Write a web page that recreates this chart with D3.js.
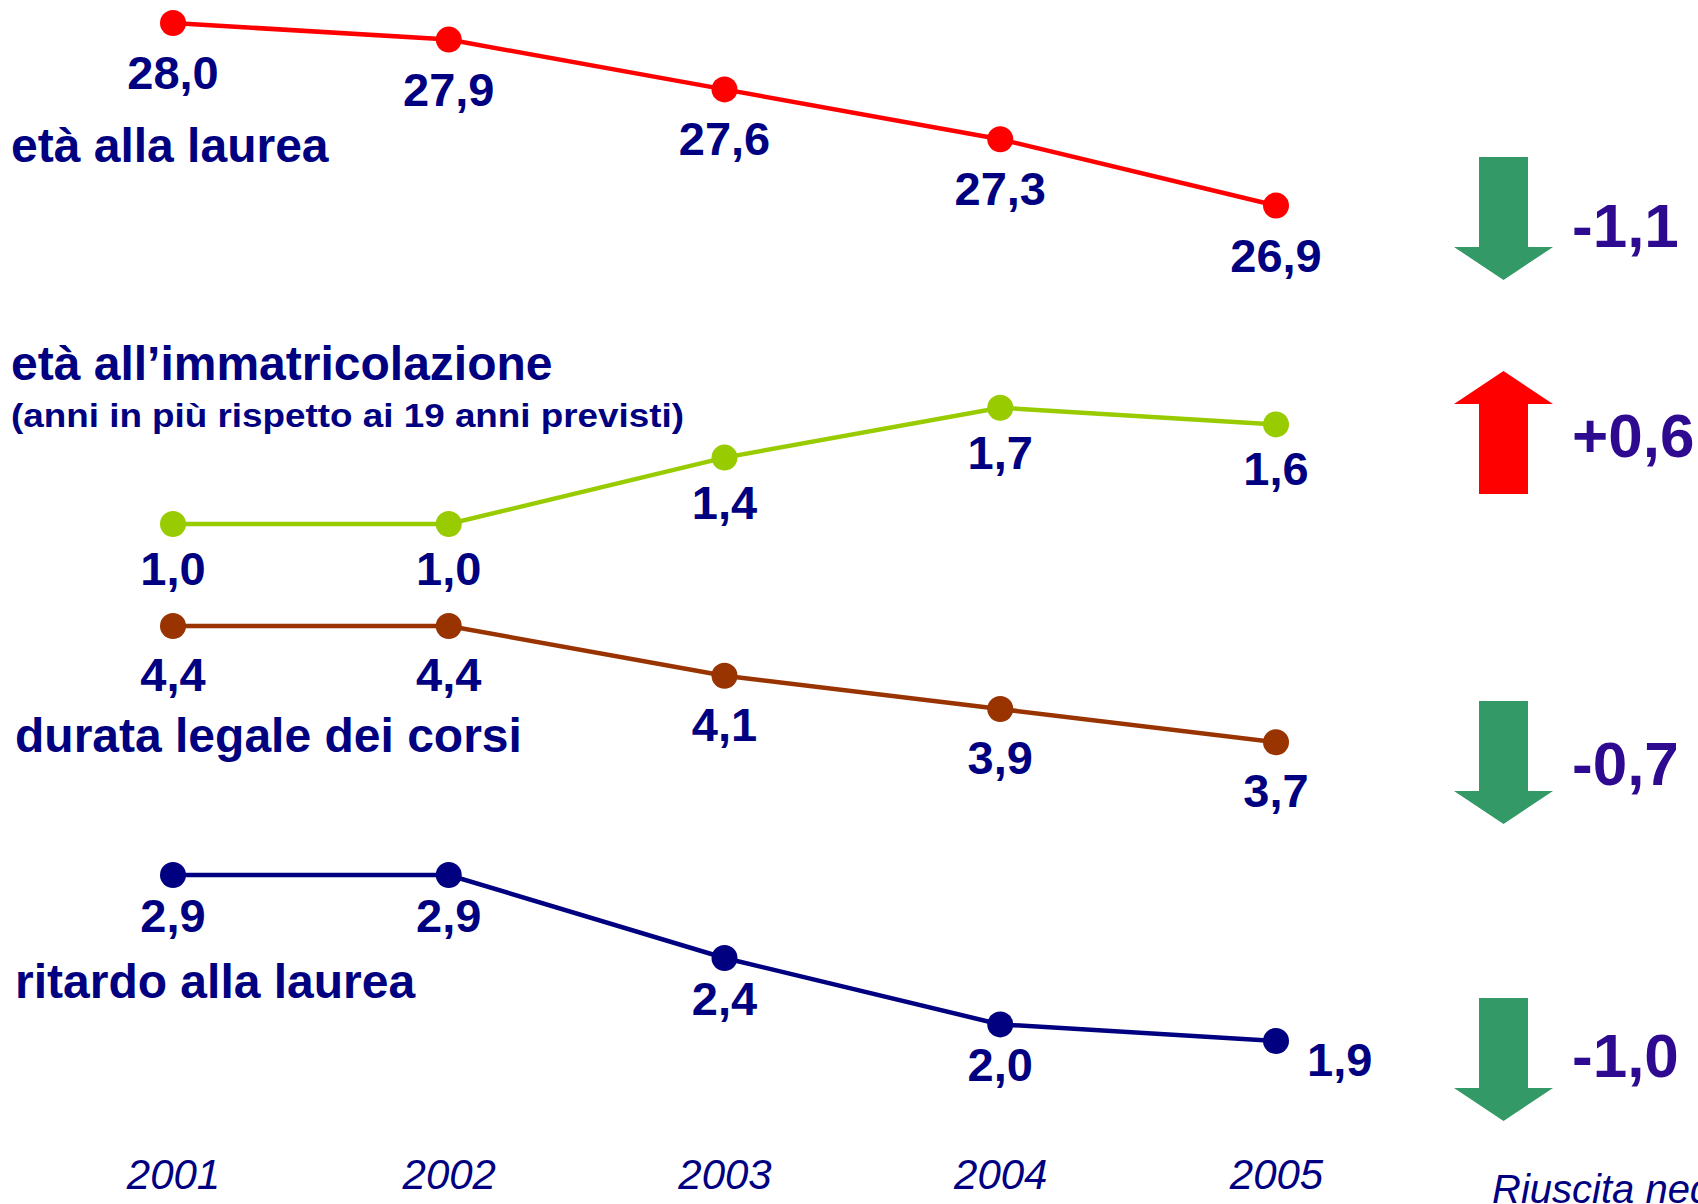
<!DOCTYPE html>
<html>
<head>
<meta charset="utf-8">
<script src="https://cdn.jsdelivr.net/npm/d3@7"></script>
<style>
  html, body { margin: 0; padding: 0; background: #fff; }
  svg { display: block; font-family: Arial, "Liberation Sans", sans-serif; }
</style>
</head>
<body>
<svg width="1698" height="1204"></svg>
<script>
// data
var years = ["2001", "2002", "2003", "2004", "2005"];
var etaLaurea = [28.0, 27.9, 27.6, 27.3, 26.9];
var etaImmatricolazione = [1.0, 1.0, 1.4, 1.7, 1.6];
var durataLegale = [4.4, 4.4, 4.1, 3.9, 3.7];
var ritardoLaurea = [2.9, 2.9, 2.4, 2.0, 1.9];
var titles = ["età alla laurea", "età all\u2019immatricolazione", "durata legale dei corsi", "ritardo alla laurea"];
var subtitle = "(anni in più rispetto ai 19 anni previsti)";
var footNote = "Riuscita negli studi";

var svg = d3.select("svg"),
    width = +svg.attr("width"),
    height = +svg.attr("height");

var navy = "#000080";
var fmt = function(v) { return d3.format(".1f")(v).replace(".", ","); };
var fmtDelta = function(v) { return (v > 0 ? "+" : "-") + fmt(Math.abs(v)); };

var x = d3.scalePoint().domain(years).range([173, 1276]);

// every band uses the same px per unit (166), only the anchor moves
function band(v0, y0) {
    return d3.scaleLinear().domain([v0, v0 - 1]).range([y0, y0 + 166]);
}

var series = [
    { values: etaLaurea, color: "#ff0000", y: band(28.0, 23), dy: 66,
      title: titles[0], tx: 11, ty: 162, arrowTop: 157, deltaY: 247 },
    { values: etaImmatricolazione, color: "#99cc00", y: band(1.0, 524), dy: 61,
      title: titles[1], tx: 11, ty: 380, arrowTop: 371, deltaY: 457 },
    { values: durataLegale, color: "#993300", y: band(4.4, 626), dy: 65,
      title: titles[2], tx: 15, ty: 752, arrowTop: 701, deltaY: 785 },
    { values: ritardoLaurea, color: "#000080", y: band(2.9, 875), dy: 57,
      title: titles[3], tx: 15, ty: 998, arrowTop: 998, deltaY: 1077 }
];

var line = d3.line();

series.forEach(function(s, si) {
    var pts = s.values.map(function(v, i) { return [x(years[i]), s.y(v)]; });
    var g = svg.append("g");

    g.append("path")
        .attr("d", line(pts))
        .attr("fill", "none")
        .attr("stroke", s.color)
        .attr("stroke-width", 4.5);

    g.selectAll("circle")
        .data(pts)
        .enter().append("circle")
        .attr("cx", function(d) { return d[0]; })
        .attr("cy", function(d) { return d[1]; })
        .attr("r", 13)
        .attr("fill", s.color);

    g.selectAll("text.val")
        .data(s.values)
        .enter().append("text")
        .attr("class", "val")
        .attr("x", function(d, i) {
            // last point of the bottom series has its label to the right
            return (si == 3 && i == 4) ? pts[i][0] + 31 : pts[i][0];
        })
        .attr("y", function(d, i) {
            return (si == 3 && i == 4) ? pts[i][1] + 35 : pts[i][1] + s.dy;
        })
        .attr("text-anchor", function(d, i) { return (si == 3 && i == 4) ? "start" : "middle"; })
        .attr("font-size", 47)
        .attr("font-weight", "bold")
        .attr("fill", navy)
        .text(fmt);

    svg.append("text")
        .attr("x", s.tx)
        .attr("y", s.ty)
        .attr("font-size", 48)
        .attr("font-weight", "bold")
        .attr("fill", navy)
        .text(s.title);

    // change arrow + delta
    var delta = Math.round((s.values[4] - s.values[0]) * 10) / 10;
    var cx = 1503.5, sw = 24.5, hw = 49.5, len = 123, head = 33, t = s.arrowTop;
    var poly;
    if (delta < 0) {
        poly = [[cx - sw, t], [cx + sw, t], [cx + sw, t + len - head], [cx + hw, t + len - head],
                [cx, t + len], [cx - hw, t + len - head], [cx - sw, t + len - head]];
    } else {
        poly = [[cx, t], [cx + hw, t + head], [cx + sw, t + head], [cx + sw, t + len],
                [cx - sw, t + len], [cx - sw, t + head], [cx - hw, t + head]];
    }
    svg.append("polygon")
        .attr("points", poly.map(function(p) { return p.join(","); }).join(" "))
        .attr("fill", delta < 0 ? "#339966" : "#ff0000");

    svg.append("text")
        .attr("x", 1572)
        .attr("y", s.deltaY)
        .attr("font-size", 62)
        .attr("font-weight", "bold")
        .attr("fill", "#2e0a90")
        .text(fmtDelta(delta));
});

svg.append("text")
    .attr("x", 11)
    .attr("y", 427)
    .attr("font-size", 34)
    .attr("font-weight", "bold")
    .attr("fill", navy)
    .attr("textLength", 673)
    .attr("lengthAdjust", "spacingAndGlyphs")
    .text(subtitle);

// year labels along the bottom
var xAxis = d3.axisBottom(x).tickSize(0).tickPadding(0);
var ax = svg.append("g")
    .attr("transform", "translate(0,1189)")
    .call(xAxis);
ax.select(".domain").remove();
ax.selectAll("text")
    .attr("dy", 0)
    .attr("y", 0)
    .attr("font-size", 42)
    .attr("font-style", "italic")
    .attr("font-family", "Arial, 'Liberation Sans', sans-serif")
    .attr("fill", navy);

svg.append("text")
    .attr("x", 1492)
    .attr("y", 1203)
    .attr("font-size", 40)
    .attr("font-style", "italic")
    .attr("fill", navy)
    .text(footNote);
</script>
</body>
</html>
